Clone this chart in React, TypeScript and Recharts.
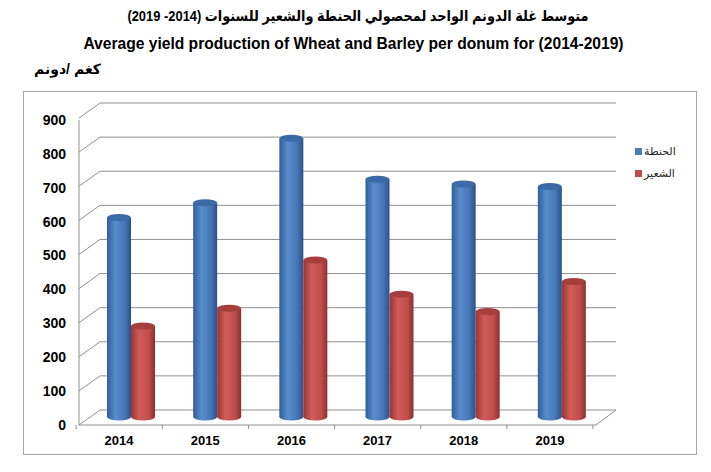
import { Bar, BarChart, CartesianGrid, Legend, XAxis, YAxis } from "recharts";

const years = ["2014", "2015", "2016", "2017", "2018", "2019"];
const wheat = [585, 628, 817, 697, 683, 676];
const barley = [267, 319, 460, 360, 309, 397];
const yTicks = [0, 100, 200, 300, 400, 500, 600, 700, 800, 900];
const wheatName = "الحنطة";
const barleyName = "الشعير";

const titleAr = "متوسط غلة الدونم الواحد لمحصولي الحنطة والشعير للسنوات (2014- 2019)";
const titleEn = "Average yield production of Wheat and Barley per donum for (2014-2019)";
const unitLabel = "كغم /دونم";

const data = years.map((year, i) => ({ year, wheat: wheat[i], barley: barley[i] }));

const FONT = "Arial, 'Liberation Sans', 'DejaVu Sans', sans-serif";
const GRID = "#8f8f8f";

// 3d-ish layout offsets (front edge vs back wall)
const FRONT_X = 79;
const BACK_X = 100;
const BACK_RIGHT = 616;
const FRONT_RIGHT = 596;

function GridLine(p: any) {
  const { y1 } = p;
  const front = y1 + 8;
  const back = y1 - 7;
  const isFloor = y1 > 410;
  return (
    <g>
      <line x1={FRONT_X} y1={front} x2={BACK_X} y2={back} stroke={GRID} />
      <line x1={BACK_X} y1={back} x2={BACK_RIGHT} y2={back} stroke={GRID} />
      {isFloor && (
        <>
          <line x1={FRONT_X} y1={front} x2={FRONT_RIGHT} y2={front} stroke={GRID} />
          <line x1={FRONT_RIGHT} y1={front} x2={BACK_RIGHT} y2={back} stroke={GRID} />
        </>
      )}
    </g>
  );
}

function YTick(p: any) {
  const { y, payload } = p;
  const front = y + 8 + payload.value * 0.002;
  return (
    <g>
      {payload.value > 0 && <line x1={FRONT_X} y1={front} x2={FRONT_X} y2={front + 34} stroke={GRID} />}
      <text x={66} y={front + 5} textAnchor="end" fontFamily={FONT} fontWeight="bold" fontSize={14} fill="#000">
        {payload.value}
      </text>
    </g>
  );
}

function XTick(p: any) {
  const { x, payload, index } = p;
  const cx = x - 12;
  return (
    <g>
      <line x1={cx - 43} y1={425} x2={cx - 43} y2={429} stroke={GRID} />
      {index === years.length - 1 && <line x1={cx + 43} y1={425} x2={cx + 43} y2={429} stroke={GRID} />}
      <text x={cx} y={445} textAnchor="middle" fontFamily={FONT} fontWeight="bold" fontSize={13} fill="#000">
        {payload.value}
      </text>
    </g>
  );
}

function Cylinder(p: any) {
  const { x, y, width, height, grad, top } = p;
  if (!height) return null;
  const rx = width / 2;
  const ry = 3.5;
  const cx = x + rx;
  return (
    <g>
      <rect x={x} y={y} width={width} height={height} fill={`url(#${grad})`} />
      <ellipse cx={cx} cy={y + height} rx={rx} ry={ry} fill={`url(#${grad})`} />
      <ellipse cx={cx} cy={y} rx={rx} ry={ry} fill={top} />
    </g>
  );
}

function LegendBox() {
  const items = [
    { name: wheatName, color: "#4a7ebb" },
    { name: barleyName, color: "#be4b48" },
  ];
  return (
    <div style={{ fontFamily: FONT, fontSize: 11, color: "#222" }}>
      {items.map((it) => (
        <div key={it.name} style={{ display: "flex", alignItems: "center", height: 22 }}>
          <span style={{ width: 7, height: 7, background: it.color, display: "inline-block", marginRight: 2 }} />
          <span>{it.name}</span>
        </div>
      ))}
    </div>
  );
}

export default function App() {
  return (
    <div style={{ position: "relative", width: 711, height: 472, margin: -8, background: "#fff", overflow: "hidden" }}>
      <div style={{ position: "absolute", left: 0, width: 716, top: 7, textAlign: "center", fontFamily: FONT, fontWeight: "bold", fontSize: 15, direction: "rtl", transform: "scaleX(0.86)", transformOrigin: "358px 0" }}>
        {titleAr}
      </div>
      <div style={{ position: "absolute", left: 0, width: 707, top: 35, textAlign: "center", fontFamily: FONT, fontWeight: "bold", fontSize: 15.6 }}>
        {titleEn}
      </div>
      <div style={{ position: "absolute", left: 34, top: 61, fontFamily: FONT, fontWeight: "bold", fontSize: 14, direction: "rtl" }}>
        {unitLabel}
      </div>
      <div style={{ position: "absolute", left: 23, top: 91, width: 672, height: 362, border: "1.5px solid #a6a6a6" }} />
      <div style={{ position: "absolute", left: 0, top: 0 }}>
        <BarChart width={711} height={472} data={data} margin={{ top: 110, right: 46, bottom: 25, left: 28 }} barSize={24} barGap={0}>
          <defs>
            <linearGradient id="wheatGrad" x1="0" y1="0" x2="1" y2="0">
              <stop offset="0%" stopColor="#2f5e9a" />
              <stop offset="35%" stopColor="#5a8dcc" />
              <stop offset="75%" stopColor="#4575b4" />
              <stop offset="100%" stopColor="#2c5088" />
            </linearGradient>
            <linearGradient id="barleyGrad" x1="0" y1="0" x2="1" y2="0">
              <stop offset="0%" stopColor="#963634" />
              <stop offset="35%" stopColor="#d15c59" />
              <stop offset="75%" stopColor="#bf4d4a" />
              <stop offset="100%" stopColor="#8a302e" />
            </linearGradient>
          </defs>
          <CartesianGrid horizontal={(p: any) => <GridLine key={p.key} {...p} />} vertical={false} />
          <XAxis dataKey="year" axisLine={false} tickLine={false} height={30} tick={(p: any) => <XTick {...p} />} interval={0} />
          <YAxis domain={[0, 900]} ticks={yTicks} width={60} axisLine={false} tickLine={false} tick={(p: any) => <YTick {...p} />} />
          <Legend
            layout="vertical"
            verticalAlign="top"
            align="right"
            wrapperStyle={{ position: "absolute", left: 635, top: 140, width: 60 }}
            content={() => <LegendBox />}
          />
          <Bar dataKey="wheat" name={wheatName} fill="#4a7ebb" isAnimationActive={false} shape={(p: any) => <Cylinder {...p} grad="wheatGrad" top="#3b6aa6" />} />
          <Bar dataKey="barley" name={barleyName} fill="#be4b48" isAnimationActive={false} shape={(p: any) => <Cylinder {...p} grad="barleyGrad" top="#a63e3b" />} />
        </BarChart>
      </div>
    </div>
  );
}
